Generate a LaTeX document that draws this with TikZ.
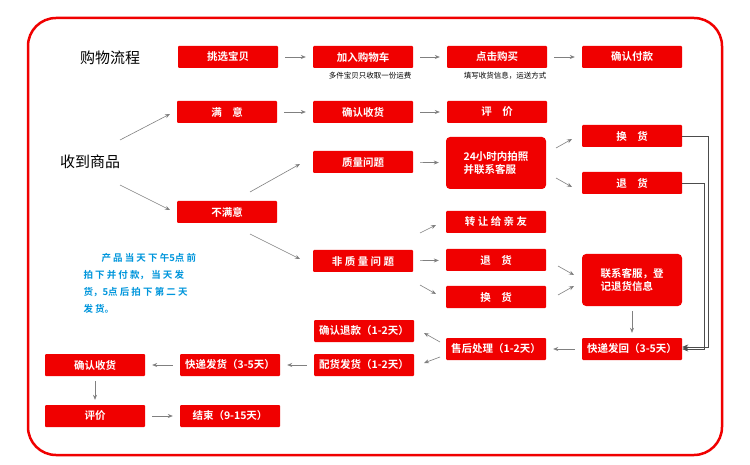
\documentclass[tikz,border=0pt]{standalone}
\usepackage{fontspec}
\newfontfamily\cjk{Noto Sans CJK SC}
\newfontfamily\cjkb{Noto Sans CJK SC Bold}
\usetikzlibrary{arrows.meta}
\definecolor{myred}{RGB}{240,0,0}
\definecolor{myblue}{RGB}{0,150,220}
\tikzset{
 bx/.style={fill=myred,text=white,font=\cjkb\fontsize{10.5}{12.5}\selectfont,minimum width=100pt,minimum height=22pt,inner sep=1pt,rounded corners=1pt,align=center},
 big/.style={bx,minimum height=52pt,rounded corners=4pt,align=left},
 ar/.style={draw=gray,-{Stealth[length=5pt,width=4pt]},line width=0.6pt,shorten >=7pt,shorten <=7pt},
 da/.style={draw=gray,-{Stealth[length=5pt,width=4pt]},line width=0.6pt},
 rl/.style={draw=black!70,line width=0.6pt,-{Stealth[length=6pt,width=5pt]}},
 ttl/.style={font=\cjk\fontsize{15}{17}\selectfont},
 sub/.style={font=\cjk\fontsize{7.5}{9}\selectfont}
}
\begin{document}
\begin{tikzpicture}[x=1pt,y=-1pt]
\useasboundingbox (0,0) rectangle (750,465);
\fill[white] (0,0) rectangle (750,465);
\draw[myred,line width=2.5pt,rounded corners=28pt] (28,18) rectangle (722,455);
\node[ttl] (t1) at (110,58) {购物流程};
\node[bx] (a1) at (228,57) {挑选宝贝};
\node[bx] (a2) at (363,57) {加入购物车};
\node[bx] (a3) at (497,57) {点击购买};
\node[bx] (a4) at (632,57) {确认付款};
\node[sub] (s2) at (370,76) {多件宝贝只收取一份运费};
\node[sub] (s3) at (505,76) {填写收货信息，运送方式};
\draw[ar] (a1)--(a2); \draw[ar] (a2)--(a3); \draw[ar] (a3)--(a4);
\node[ttl] (t2) at (90,162) {收到商品};
\node[bx] (b1) at (227,112) {满\quad 意};
\node[bx] (b2) at (363,112) {确认收货};
\node[bx] (b3) at (497,112) {评\quad 价};
\draw[ar] (b1)--(b2); \draw[ar] (b2)--(b3);
\node[bx] (c1) at (227,212) {不满意};
\node[bx] (q1) at (363,162) {质量问题};
\node[big] (q2) at (496,163) {24小时内拍照\\并联系客服};
\node[bx] (q3) at (632,136) {换\quad 货};
\node[bx] (q4) at (632,183) {退\quad 货};
\node[bx] (n1) at (363,261) {非 质 量 问 题};
\node[bx] (n2) at (496,222) {转 让 给 亲 友};
\node[bx] (n3) at (496,260) {退\quad 货};
\node[bx] (n4) at (496,297) {换\quad 货};
\node[big] (n5) at (632,280) {联系客服，登\\记退货信息};
\node[bx] (r1) at (632,349) {快递发回（3-5天）};
\node[bx] (r2) at (496,349) {售后处理（1-2天）};
\node[bx] (r3) at (364,331) {确认退款（1-2天）};
\node[bx] (r4) at (364,365) {配货发货（1-2天）};
\node[bx] (r5) at (230,365) {快递发货（3-5天）};
\node[bx] (r6) at (95,365) {确认收货};
\node[bx] (r7) at (95,416) {评价};
\node[bx] (r8) at (230,416) {结束（9-15天）};
\node[font=\cjkb\fontsize{9.5}{17}\selectfont,text=myblue,align=left,anchor=north west] (note) at (80,250) {\hspace*{18pt}产 品 当 天 下 午5点 前\\拍 下 并 付 款， 当 天 发\\货，5点 后 拍 下 第 二 天\\发 货。};
\coordinate (p1) at (120,140); \coordinate (p2) at (170,114);
\coordinate (p3) at (120,185); \coordinate (p4) at (170,210);
\draw[da] (p1)--(p2); \draw[da] (p3)--(p4);
\coordinate (p5) at (250,192); \coordinate (p6) at (300,164);
\coordinate (p7) at (250,234); \coordinate (p8) at (300,259);
\draw[da] (p5)--(p6); \draw[da] (p7)--(p8);
\draw[ar] (q1)--(q2);
\coordinate (g1) at (556,148); \coordinate (g2) at (572,139);
\coordinate (g3) at (556,178); \coordinate (g4) at (572,187);
\draw[da] (g1)--(g2); \draw[da] (g3)--(g4);
\coordinate (h1) at (420,233); \coordinate (h2) at (436,225);
\coordinate (h3) at (420,285); \coordinate (h4) at (436,294);
\draw[da] (h1)--(h2); \draw[da] (h3)--(h4);
\draw[ar] (n1)--(n3);
\coordinate (k1) at (558,266); \coordinate (k2) at (574,275);
\coordinate (k3) at (558,295); \coordinate (k4) at (574,286);
\draw[da] (k1)--(k2); \draw[da] (k3)--(k4);
\draw[ar,shorten <=5pt,shorten >=5pt] (n5)--(r1);
\draw[ar] (r1)--(r2);
\coordinate (m1) at (440,342); \coordinate (m2) at (424,333);
\coordinate (m3) at (440,357); \coordinate (m4) at (424,363);
\draw[da] (m1)--(m2); \draw[da] (m3)--(m4);
\draw[ar] (r4)--(r5); \draw[ar] (r5)--(r6);
\draw[ar,shorten <=5pt,shorten >=5pt] (r6)--(r7);
\draw[ar] (r7)--(r8);
\coordinate (e1) at (r1.east);
\draw[rl] (q3.east)--++(26,0)|-([yshift=2pt]e1);
\draw[rl] (q4.east)--++(22,0)|-(e1);
\end{tikzpicture}
\end{document}
